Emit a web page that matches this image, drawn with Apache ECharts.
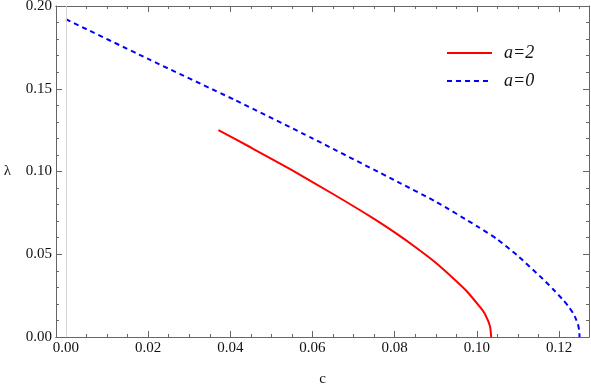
<!DOCTYPE html>
<html>
<head>
<meta charset="utf-8">
<script src="https://cdn.jsdelivr.net/npm/echarts@6/dist/echarts.min.js"></script>
<style>
html,body{margin:0;padding:0;background:#fff;}
#chart{width:591px;height:386px;}
</style>
</head>
<body>
<div id="chart"></div>
<script>
// data
const cA2 = [0.0371, 0.045, 0.055, 0.065, 0.0748, 0.080, 0.085, 0.090, 0.0947, 0.0975, 0.1008, 0.1018, 0.1027, 0.1031, 0.1033, 0.1035];
const lamA2 = [0.1250, 0.1145, 0.1008, 0.0864, 0.0717, 0.0632, 0.0544, 0.0449, 0.0345, 0.0278, 0.0180, 0.0146, 0.0100, 0.0072, 0.0051, 0.0];
const cA0 = [0.0, 0.02, 0.0411, 0.06, 0.0813, 0.09, 0.10, 0.105, 0.11, 0.1161, 0.1185, 0.121, 0.1222, 0.1234, 0.1241, 0.1246, 0.1249, 0.1250];
const lamA0 = [0.192, 0.168, 0.1432, 0.120, 0.093, 0.0818, 0.0670, 0.0590, 0.0490, 0.0350, 0.0290, 0.0224, 0.0188, 0.0145, 0.0110, 0.0078, 0.0040, 0.0];
const seriesNames = ['a=2', 'a=0'];
const xTicks = [0, 0.02, 0.04, 0.06, 0.08, 0.10, 0.12];
const xMinorTicks = [0.005, 0.01, 0.015, 0.025, 0.03, 0.035, 0.045, 0.05, 0.055, 0.065, 0.07, 0.075, 0.085, 0.09, 0.095, 0.105, 0.11, 0.115, 0.125];
const yTicks = [0, 0.05, 0.10, 0.15, 0.20];
const xName = 'c';
const yName = 'λ';

const pairs = (xs, ys) => xs.map((x, i) => [x, ys[i]]);
const XMIN = -0.00243, XMAX = 0.1273;
const FONT = '"Liberation Serif", "DejaVu Serif", serif';
const frame = '#666';

function xAx(pos, labels, minor) {
  return {
    type: 'value', position: pos, min: XMIN, max: XMAX,
    axisLine: { show: true, onZero: false, lineStyle: { color: frame, width: 1 } },
    axisTick: { show: true, inside: true, length: minor ? 3 : 6, customValues: minor ? xMinorTicks : xTicks, lineStyle: { color: frame } },
    axisLabel: labels ? { show: true, customValues: xTicks, formatter: v => v.toFixed(2), fontFamily: FONT, fontSize: 15, color: '#111', margin: 4 } : { show: false },
    splitLine: { show: false },
    name: labels ? xName : '', nameLocation: 'middle', nameGap: 35,
    nameTextStyle: { fontFamily: FONT, fontSize: 15, color: '#111' }
  };
}
function yAx(pos, labels) {
  return {
    type: 'value', position: pos, min: 0, max: 0.2, interval: 0.05,
    axisLine: { show: true, onZero: false, lineStyle: { color: frame, width: 1 } },
    axisTick: { show: true, inside: true, length: 6, lineStyle: { color: frame } },
    minorTick: { show: true, splitNumber: 5, length: 3, lineStyle: { color: frame } },
    axisLabel: labels ? { show: true, customValues: yTicks, formatter: v => v.toFixed(2), fontFamily: FONT, fontSize: 15, color: '#111', margin: 4 } : { show: false },
    splitLine: { show: false },
    name: labels ? yName : '', nameLocation: 'middle', nameRotate: 0, nameGap: 45,
    nameTextStyle: { fontFamily: FONT, fontSize: 15, color: '#111' }
  };
}

const chart = echarts.init(document.getElementById('chart'), null, { renderer: 'canvas' });
chart.setOption({
  animation: false,
  backgroundColor: '#fff',
  grid: { left: 56, right: 2, top: 6, bottom: 49, containLabel: false, outerBoundsMode: 'none' },
  xAxis: [xAx('bottom', true, false), xAx('top', false, false), xAx('bottom', false, true), xAx('top', false, true)],
  yAxis: [yAx('left', true), yAx('right', false)],
  legend: {
    orient: 'vertical', left: 441, top: 39, itemWidth: 45, itemHeight: 12, itemGap: 10,
    data: seriesNames,
    itemStyle: { opacity: 0 },
    textStyle: { fontFamily: FONT, fontSize: 18, fontStyle: 'italic', color: '#111', padding: [0, 0, 0, 7] }
  },
  series: [
    {
      name: seriesNames[0], type: 'line', data: pairs(cA2, lamA2), showSymbol: false, symbol: 'none',
      smooth: 0.2,
      lineStyle: { color: '#ff0000', width: 2 }, itemStyle: { color: '#ff0000' },
      markLine: {
        silent: true, symbol: 'none', label: { show: false },
        lineStyle: { color: '#d4d4d4', width: 1, type: 'solid' },
        data: [{ xAxis: 0 }]
      }
    },
    {
      name: seriesNames[1], type: 'line', data: pairs(cA0, lamA0), showSymbol: false, symbol: 'none',
      smooth: 0.2,
      lineStyle: { color: '#0000ff', width: 2, type: [5, 4] }, itemStyle: { color: '#0000ff' }
    }
  ]
});
</script>
</body>
</html>
